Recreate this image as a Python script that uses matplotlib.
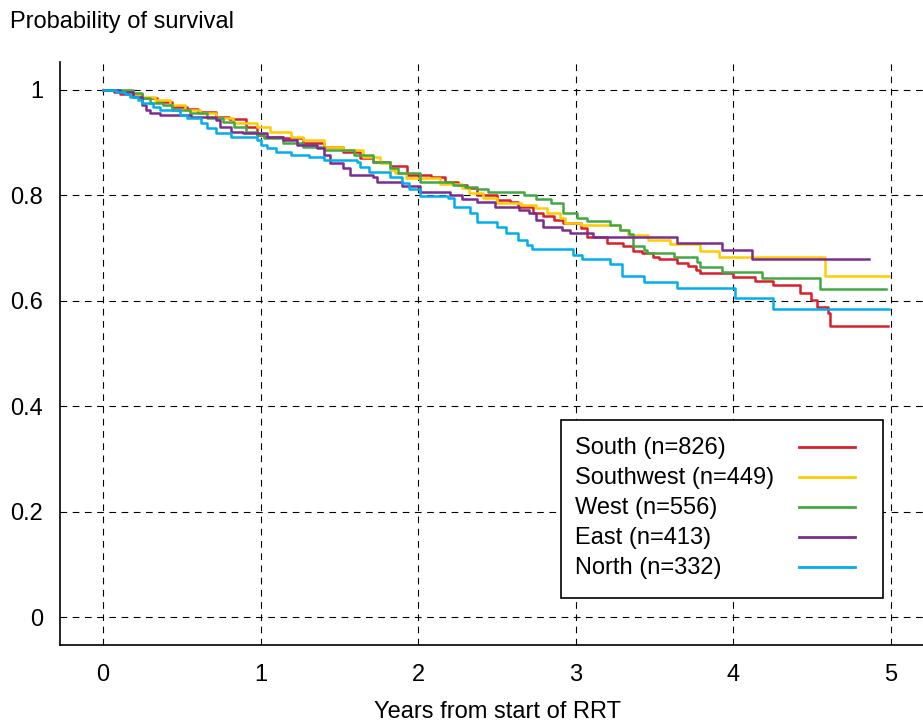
import matplotlib
matplotlib.use("Agg")
import matplotlib.pyplot as plt
from matplotlib.patches import Rectangle

plt.rcParams['font.family'] = ['Liberation Sans', 'DejaVu Sans']

# Kaplan-Meier step curves (years, survival)
south_t = [0, 0.07, 0.11, 0.25, 0.34, 0.44, 0.53, 0.60, 0.72, 0.80,
           0.91, 0.98, 1.02, 1.14, 1.27, 1.40, 1.52, 1.63, 1.71, 1.82,
           1.93, 2.08, 2.17, 2.25, 2.31, 2.37, 2.50, 2.58, 2.63, 2.73,
           2.79, 2.86, 2.92, 3.03, 3.07, 3.20, 3.30, 3.36, 3.42, 3.49,
           3.53, 3.64, 3.71, 3.76, 3.79, 4.00, 4.14, 4.25, 4.42, 4.49,
           4.53, 4.60, 4.61, 4.98]
south_s = [1.0, 0.996, 0.992, 0.985, 0.977, 0.968, 0.963, 0.958, 0.949, 0.944,
           0.930, 0.915, 0.911, 0.909, 0.900, 0.892, 0.883, 0.871, 0.863, 0.855,
           0.839, 0.835, 0.825, 0.820, 0.814, 0.801, 0.791, 0.787, 0.778, 0.766,
           0.760, 0.753, 0.747, 0.738, 0.721, 0.710, 0.704, 0.694, 0.691, 0.683,
           0.679, 0.672, 0.666, 0.658, 0.653, 0.645, 0.638, 0.630, 0.615, 0.602,
           0.588, 0.577, 0.552, 0.552]

southwest_t = [0, 0.17, 0.235, 0.33, 0.425, 0.52, 0.615, 0.72, 0.825, 0.98,
               1.06, 1.19, 1.27, 1.40, 1.52, 1.65, 1.76, 1.82, 1.85, 1.92,
               2.14, 2.28, 2.32, 2.41, 2.50, 2.65, 2.75, 2.82, 2.90, 2.93,
               3.03, 3.28, 3.33, 3.46, 3.60, 3.79, 3.91, 4.58, 4.99]
southwest_s = [1.0, 0.993, 0.987, 0.981, 0.971, 0.962, 0.956, 0.947, 0.937, 0.930,
               0.920, 0.911, 0.905, 0.892, 0.886, 0.873, 0.861, 0.848, 0.842, 0.833,
               0.822, 0.814, 0.805, 0.795, 0.786, 0.782, 0.776, 0.766, 0.757, 0.748,
               0.744, 0.734, 0.725, 0.715, 0.708, 0.695, 0.683, 0.647, 0.647]

west_t = [0, 0.19, 0.25, 0.30, 0.38, 0.44, 0.55, 0.66, 0.76, 0.83,
          0.91, 0.98, 1.02, 1.14, 1.27, 1.40, 1.59, 1.71, 1.82, 1.87,
          2.01, 2.22, 2.30, 2.37, 2.44, 2.67, 2.75, 2.84, 2.92, 3.01,
          3.07, 3.22, 3.28, 3.34, 3.36, 3.43, 3.45, 3.62, 3.77, 3.79,
          3.93, 4.18, 4.55, 4.97]
west_s = [1.0, 0.994, 0.985, 0.975, 0.971, 0.962, 0.956, 0.947, 0.939, 0.930,
          0.920, 0.915, 0.909, 0.899, 0.892, 0.886, 0.877, 0.863, 0.852, 0.842,
          0.825, 0.820, 0.816, 0.812, 0.806, 0.801, 0.793, 0.785, 0.766, 0.757,
          0.751, 0.744, 0.734, 0.727, 0.704, 0.696, 0.691, 0.683, 0.674, 0.664,
          0.655, 0.643, 0.622, 0.622]

east_t = [0, 0.11, 0.19, 0.25, 0.27, 0.30, 0.36, 0.56, 0.72, 0.74,
          0.81, 0.89, 1.04, 1.14, 1.23, 1.36, 1.40, 1.44, 1.52, 1.57,
          1.71, 1.74, 1.90, 2.01, 2.20, 2.28, 2.37, 2.49, 2.64, 2.70,
          2.75, 2.79, 2.91, 2.96, 3.11, 3.64, 3.93, 4.12, 4.86]
east_s = [1.0, 0.996, 0.987, 0.971, 0.962, 0.956, 0.952, 0.949, 0.943, 0.930,
          0.920, 0.918, 0.911, 0.905, 0.896, 0.890, 0.877, 0.861, 0.852, 0.839,
          0.835, 0.825, 0.818, 0.806, 0.801, 0.793, 0.787, 0.778, 0.772, 0.766,
          0.753, 0.740, 0.734, 0.729, 0.721, 0.710, 0.696, 0.679, 0.679]

north_t = [0, 0.08, 0.14, 0.17, 0.22, 0.25, 0.32, 0.36, 0.49, 0.53,
           0.62, 0.66, 0.72, 0.81, 0.98, 1.00, 1.04, 1.10, 1.19, 1.31,
           1.40, 1.61, 1.63, 1.69, 1.82, 1.90, 1.94, 2.01, 2.19, 2.23,
           2.33, 2.37, 2.50, 2.56, 2.63, 2.69, 2.72, 2.98, 3.04, 3.22,
           3.29, 3.43, 3.64, 4.01, 4.25, 4.99]
north_s = [1.0, 0.997, 0.993, 0.987, 0.981, 0.975, 0.968, 0.962, 0.953, 0.947,
           0.937, 0.928, 0.918, 0.911, 0.905, 0.896, 0.890, 0.882, 0.877, 0.873,
           0.867, 0.863, 0.854, 0.844, 0.835, 0.824, 0.812, 0.799, 0.795, 0.778,
           0.766, 0.750, 0.740, 0.729, 0.715, 0.706, 0.698, 0.687, 0.679, 0.670,
           0.647, 0.636, 0.624, 0.605, 0.584, 0.584]

labels = ["South (n=826)", "Southwest (n=449)", "West (n=556)",
          "East (n=413)", "North (n=332)"]
colors = ['#d9202a', '#ffcc00', '#43a843', '#7b2d8f', '#00aeef']
series = [(south_t, south_s), (southwest_t, southwest_s), (west_t, west_s),
          (east_t, east_s), (north_t, north_s)]

fig = plt.figure(figsize=(9.23, 7.22), dpi=100)
ax = fig.add_axes([60 / 923, 77 / 722, 863 / 923, 583 / 722])

for (t, s), c in zip(series, colors):
    ax.step(t, s, where='post', color=c, lw=1.8, zorder=3)

ax.set_xlim(-0.273, 5.203)
ax.set_ylim(-0.053, 1.053)
ax.set_xticks([0, 1, 2, 3, 4, 5])
ax.set_yticks([0, 0.2, 0.4, 0.6, 0.8, 1.0])
ax.set_yticklabels(["0", "0.2", "0.4", "0.6", "0.8", "1"])
ax.tick_params(axis='both', length=0, labelsize=17)
ax.tick_params(axis='x', pad=14)
ax.tick_params(axis='y', pad=12)
ax.grid(True, color='black', lw=0.8, linestyle=(0, (6, 5)))

ax.spines['top'].set_visible(False)
ax.spines['right'].set_visible(False)
ax.spines['left'].set_linewidth(1.2)
ax.spines['bottom'].set_linewidth(1.2)

fig.text(10 / 923, 1 - 22 / 722, "Probability of survival", fontsize=17,
         ha='left', va='center')
fig.text(497 / 923, 1 - 712 / 722, "Years from start of RRT", fontsize=17,
         ha='center', va='center')

# legend box drawn by hand: text on the left, line sample on the right
ax.add_patch(Rectangle((0.5805, 0.0806), 0.3732, 0.3054, transform=ax.transAxes,
                       facecolor='white', edgecolor='black', lw=1.2, zorder=5))
row_y = [0.3379, 0.2864, 0.2350, 0.1835, 0.1321]
for lab, c, y in zip(labels, colors, row_y):
    ax.text(0.5968, y, lab, transform=ax.transAxes, fontsize=17,
            ha='left', va='center', zorder=6)
    ax.plot([0.8563, 0.9212], [y + 0.002, y + 0.002], transform=ax.transAxes,
            color=c, lw=2.0, zorder=6)

fig.savefig("out.png", dpi=100)
